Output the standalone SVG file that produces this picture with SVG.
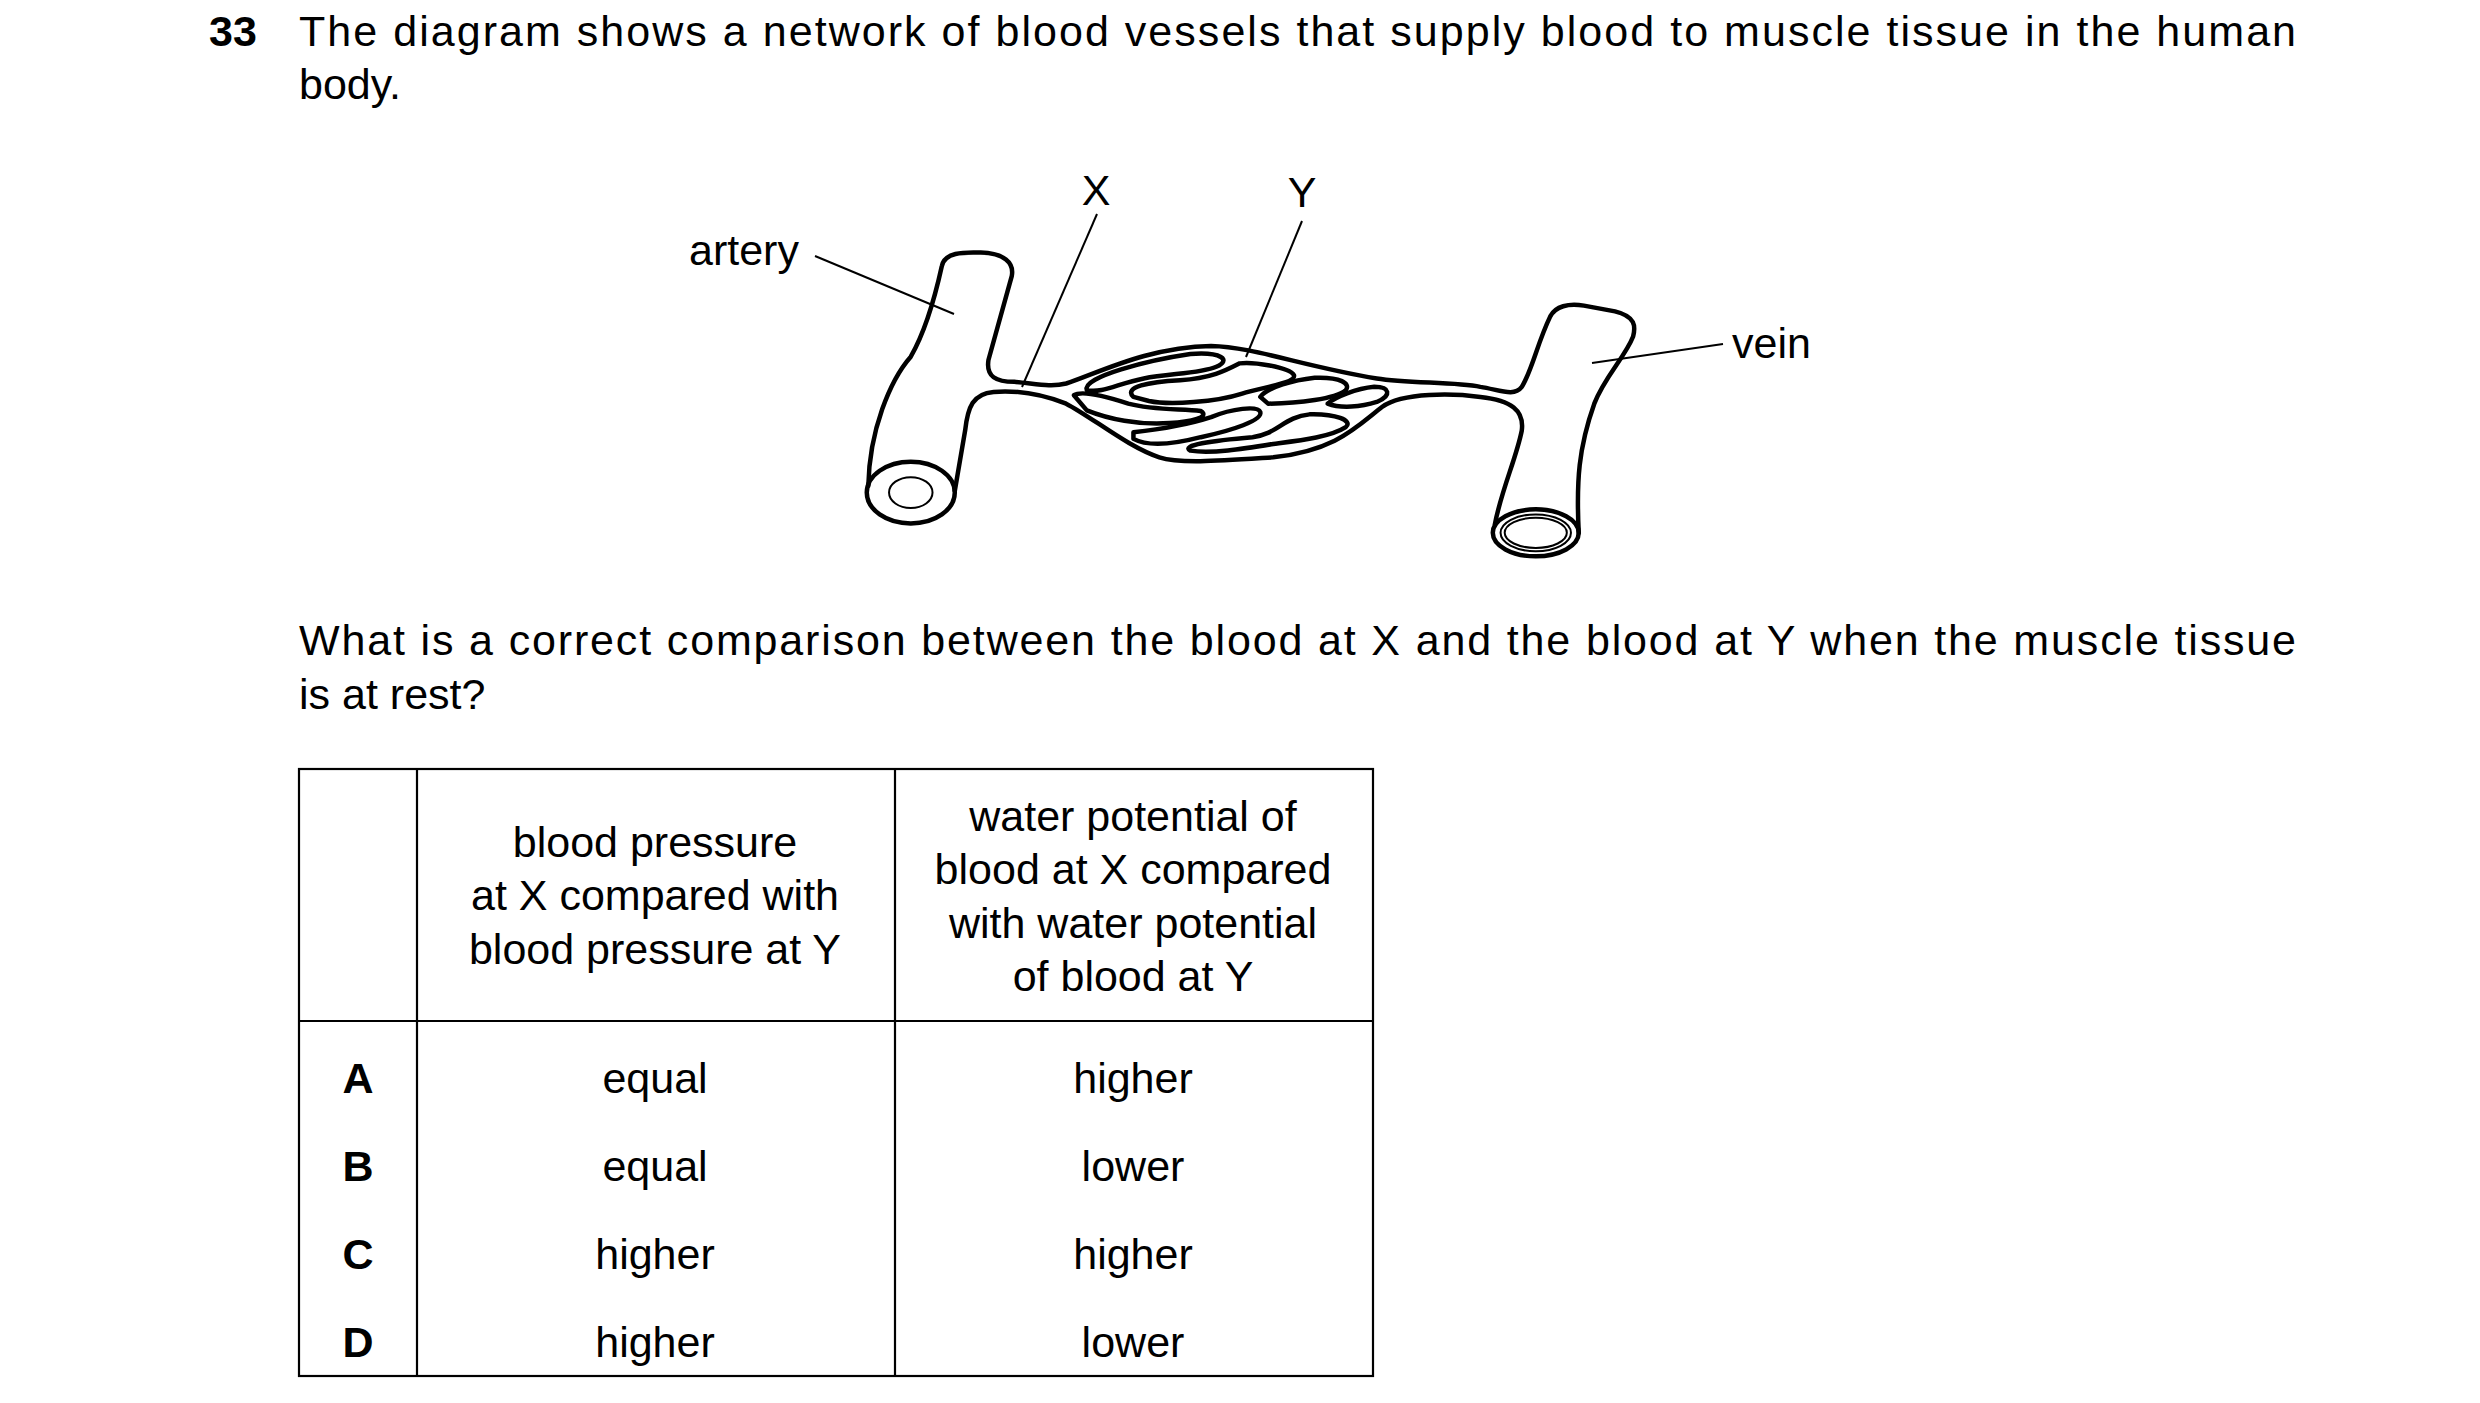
<svg xmlns="http://www.w3.org/2000/svg" width="2480" height="1403" viewBox="0 0 2480 1403">
<style>
text{font-family:"Liberation Sans",Arial,sans-serif;font-size:43px;fill:#000}
.c{text-anchor:middle}
.b{font-weight:bold}
.thick{fill:none;stroke:#000;stroke-width:4.5;stroke-linejoin:round;stroke-linecap:round}
.thin{fill:none;stroke:#000;stroke-width:2}
.grid{stroke:#000;stroke-width:2.2;fill:none}
</style>
<rect width="2480" height="1403" fill="#fff"/>
<g id="question">
<text x="209" y="46" class="b">33</text>
<text x="299" y="46" textLength="1997" lengthAdjust="spacing">The diagram shows a network of blood vessels that supply blood to muscle tissue in the human</text>
<text x="299" y="99">body.</text>
<text x="299" y="655" textLength="1997" lengthAdjust="spacing">What is a correct comparison between the blood at X and the blood at Y when the muscle tissue</text>
<text x="299" y="709">is at rest?</text>
</g>
<g id="vessels" transform="matrix(0.5178,0,0,0.3356,859,162)">
<g class="thick" style="vector-effect:non-scaling-stroke">
<path vector-effect="non-scaling-stroke" d="M 18,965 C 20,800 60,650 100,580 C 130,500 150,380 160,310 C 165,270 200,268 235,270 C 280,272 300,300 295,340 L 250,590 C 245,640 265,655 300,655 C 340,660 370,672 400,660 C 460,630 560,550 680,548 C 760,550 860,610 1000,645 C 1060,660 1150,655 1200,670 C 1240,680 1265,700 1280,670 C 1300,620 1310,540 1335,460 C 1345,430 1370,420 1400,428 L 1460,445 C 1500,460 1500,490 1495,520 C 1480,580 1440,640 1420,720 C 1390,850 1385,950 1390,1105"/>
<path vector-effect="non-scaling-stroke" d="M 1228,1080 C 1240,980 1270,880 1280,800 C 1285,740 1260,710 1200,700 C 1150,690 1050,685 1010,730 C 960,790 920,860 800,880 C 700,890 620,900 580,880 C 520,850 450,760 400,720 C 350,690 300,680 260,685 C 220,690 210,730 205,800 L 185,980"/>
<ellipse vector-effect="non-scaling-stroke" cx="100" cy="985" rx="85" ry="92"/>
<ellipse vector-effect="non-scaling-stroke" cx="1307" cy="1105" rx="83" ry="70"/>
<path vector-effect="non-scaling-stroke" d="M 440,680 C 430,640 560,590 640,572 C 700,565 720,590 690,610 C 660,630 600,630 550,645 C 500,660 470,690 440,680 Z"/>
<path vector-effect="non-scaling-stroke" d="M 530,700 C 510,670 560,655 620,650 C 680,645 710,620 735,600 C 760,595 830,610 840,635 C 845,660 780,670 740,690 C 690,715 600,725 560,712 Z"/>
<path vector-effect="non-scaling-stroke" d="M 415,695 C 430,680 480,700 520,720 C 570,740 620,735 660,742 C 680,760 640,775 600,778 C 540,785 480,765 440,740 Z"/>
<path vector-effect="non-scaling-stroke" d="M 775,700 C 790,670 840,650 880,643 C 930,640 950,660 940,680 C 920,705 850,720 790,720 Z"/>
<path vector-effect="non-scaling-stroke" d="M 905,720 C 920,700 960,675 995,670 C 1025,670 1030,695 1000,715 C 970,730 930,735 905,720 Z"/>
<path vector-effect="non-scaling-stroke" d="M 530,805 C 560,800 620,790 680,760 C 720,735 770,725 775,745 C 780,770 720,800 660,820 C 610,840 560,850 530,825 Z"/>
<path vector-effect="non-scaling-stroke" d="M 640,860 C 620,845 680,830 760,820 C 810,810 820,760 870,752 C 920,750 955,770 940,790 C 910,820 850,830 800,840 C 740,855 680,870 640,860 Z"/>
</g>
<g class="thin">
<ellipse vector-effect="non-scaling-stroke" cx="100" cy="985" rx="42" ry="46"/>
<ellipse vector-effect="non-scaling-stroke" cx="1307" cy="1105" rx="68" ry="55"/>
<ellipse vector-effect="non-scaling-stroke" cx="1307" cy="1105" rx="60" ry="45"/>
</g>
</g>
<g id="labels">
<line class="thin" x1="1097" y1="214" x2="1022" y2="387"/>
<line class="thin" x1="1302" y1="221" x2="1246" y2="357"/>
<line class="thin" x1="815" y1="256" x2="954" y2="314"/>
<line class="thin" x1="1592" y1="363" x2="1723" y2="344"/>
<text x="1096" y="205" class="c">X</text>
<text x="1302" y="207" class="c">Y</text>
<text x="689" y="265">artery</text>
<text x="1732" y="358">vein</text>
</g>
<g id="table">
<rect class="grid" x="299" y="769" width="1074" height="607"/>
<line class="grid" x1="417" y1="769" x2="417" y2="1376"/>
<line class="grid" x1="895" y1="769" x2="895" y2="1376"/>
<line class="grid" x1="299" y1="1021" x2="1373" y2="1021"/>
<text x="655" y="857" class="c">blood pressure</text>
<text x="655" y="910" class="c">at X compared with</text>
<text x="655" y="964" class="c">blood pressure at Y</text>
<text x="1133" y="831" class="c">water potential of</text>
<text x="1133" y="884" class="c">blood at X compared</text>
<text x="1133" y="938" class="c">with water potential</text>
<text x="1133" y="991" class="c">of blood at Y</text>
<text x="358" y="1093" class="c b">A</text>
<text x="358" y="1181" class="c b">B</text>
<text x="358" y="1269" class="c b">C</text>
<text x="358" y="1357" class="c b">D</text>
<text x="655" y="1093" class="c">equal</text>
<text x="655" y="1181" class="c">equal</text>
<text x="655" y="1269" class="c">higher</text>
<text x="655" y="1357" class="c">higher</text>
<text x="1133" y="1093" class="c">higher</text>
<text x="1133" y="1181" class="c">lower</text>
<text x="1133" y="1269" class="c">higher</text>
<text x="1133" y="1357" class="c">lower</text>
</g>
</svg>
